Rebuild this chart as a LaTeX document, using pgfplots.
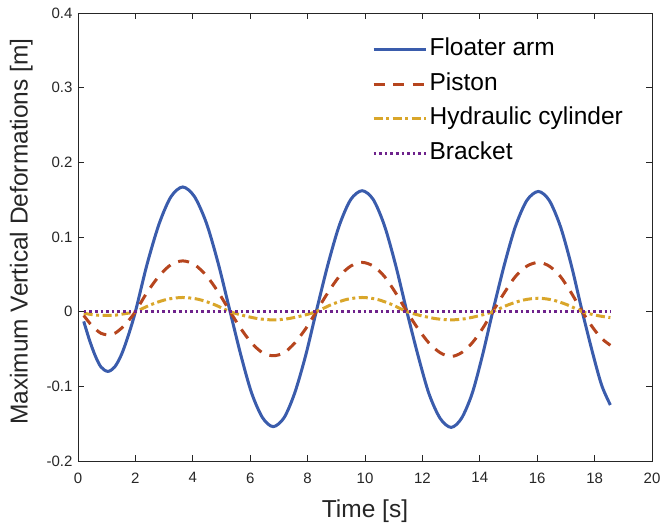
\documentclass[border=0pt]{standalone}
\usepackage{pgfplots}
\pgfplotsset{compat=1.18}
\usepackage{fontspec}
\setmainfont{Liberation Sans}
\definecolor{cblue}{RGB}{58,92,172}
\definecolor{cred}{RGB}{182,69,30}
\definecolor{cyel}{RGB}{217,166,42}
\definecolor{cpur}{RGB}{110,35,140}
\definecolor{axgray}{RGB}{38,38,38}
\begin{document}
\begin{tikzpicture}
\path[use as bounding box] (-78pt,-67pt) rectangle (583pt,461pt);
\begin{axis}[
  at={(0,0)}, anchor=south west,
  scale only axis, width=574pt, height=448pt,
  xmin=0, xmax=20, ymin=-0.2, ymax=0.4,
  xtick={0,2,4,6,8,10,12,14,16,18,20},
  ytick={-0.2,-0.1,0,0.1,0.2,0.3,0.4},
  yticklabels={-0.2,-0.1,0,0.1,0.2,0.3,0.4},
  /pgf/number format/assume math mode=true,
  tick align=inside, major tick length=6pt,
  axis line style={axgray, line width=0.8pt},
  every tick/.style={axgray, line width=0.8pt},
  tick label style={font=\fontsize{15}{18}\selectfont, text=axgray},
  xticklabel style={yshift=-8pt},
  yticklabel style={xshift=-2pt},
  xlabel={Time [s]}, ylabel={Maximum Vertical Deformations [m]},
  label style={font=\fontsize{24.5}{29}\selectfont, text=axgray},
  xlabel style={at={(axis description cs:0.5,-0.113)}, anchor=center},
  ylabel style={at={(axis description cs:-0.099,0.512)}, anchor=center},
  legend style={draw=none, fill=none, at={(rel axis cs:0.512,0.957)}, anchor=north west,
    font=\fontsize{24.5}{29}\selectfont, inner sep=0pt, row sep=0pt,
    nodes={text height=18pt, text depth=6pt, inner ysep=5.25pt, inner xsep=2.5pt}},
  legend cell align=left,
  legend image code/.code={\draw[#1] (0pt,0pt) -- (52pt,0pt);},
]
\addplot[cblue, line width=3pt, smooth] coordinates {
(0.2,-0.013)(0.4,-0.038)(0.6,-0.059)(0.8,-0.074)(1.04,-0.080)
(1.28,-0.074)(1.52,-0.057)(1.76,-0.031)(2.0,0)
(2.41,0.064)(2.83,0.118)(3.24,0.154)(3.65,0.167)(4.06,0.154)(4.48,0.118)(4.89,0.064)(5.3,0)
(5.68,-0.059)(6.05,-0.109)(6.43,-0.142)(6.8,-0.154)(7.18,-0.142)(7.55,-0.109)(7.93,-0.059)(8.3,0)
(8.7,0.062)(9.1,0.115)(9.5,0.150)(9.9,0.162)(10.29,0.150)(10.68,0.115)(11.07,0.062)(11.46,0)
(11.85,-0.059)(12.23,-0.110)(12.62,-0.143)(13.0,-0.155)(13.36,-0.143)(13.73,-0.110)(14.09,-0.059)(14.45,0)
(14.85,0.062)(15.24,0.114)(15.64,0.149)(16.04,0.161)(16.42,0.149)(16.81,0.114)(17.19,0.062)(17.57,0)
(17.95,-0.058)(18.25,-0.099)(18.55,-0.125)};
\addlegendentry{Floater arm}
\addplot[cred, line width=3pt, smooth, dash pattern=on 11pt off 8.5pt] coordinates {
(0.2,-0.005)(0.4,-0.015)(0.6,-0.023)(0.8,-0.029)(1.04,-0.031)
(1.28,-0.029)(1.52,-0.022)(1.76,-0.012)(2.0,0)
(2.41,0.026)(2.83,0.048)(3.24,0.063)(3.65,0.068)(4.06,0.063)(4.48,0.048)(4.89,0.026)(5.3,0)
(5.68,-0.023)(6.05,-0.042)(6.43,-0.055)(6.8,-0.059)(7.18,-0.055)(7.55,-0.042)(7.93,-0.023)(8.3,0)
(8.7,0.025)(9.1,0.047)(9.5,0.061)(9.9,0.066)(10.29,0.061)(10.68,0.047)(11.07,0.025)(11.46,0)
(11.85,-0.023)(12.23,-0.042)(12.62,-0.055)(13.0,-0.060)(13.36,-0.055)(13.73,-0.042)(14.09,-0.023)(14.45,0)
(14.85,0.025)(15.24,0.047)(15.64,0.061)(16.04,0.066)(16.42,0.061)(16.81,0.047)(17.19,0.025)(17.57,0)
(17.95,-0.022)(18.25,-0.036)(18.55,-0.045)};
\addlegendentry{Piston}
\addplot[cyel, line width=3pt, smooth, dash pattern=on 9pt off 3.5pt on 3pt off 3.5pt] coordinates {
(0.2,-0.002)(0.5,-0.004)(0.8,-0.005)(1.0,-0.005)(1.33,-0.0045)(1.66,-0.0025)(2.0,0)
(2.55,0.0095)(3.10,0.0165)(3.65,0.019)(4.20,0.0165)(4.75,0.0095)(5.3,0)
(5.8,-0.0055)(6.3,-0.0095)(6.8,-0.011)(7.3,-0.0095)(7.8,-0.0055)(8.3,0)
(8.83,0.0095)(9.37,0.0165)(9.9,0.019)(10.42,0.0165)(10.94,0.0095)(11.46,0)
(11.97,-0.0055)(12.49,-0.0095)(13.0,-0.011)(13.48,-0.0095)(13.97,-0.0055)(14.45,0)
(14.98,0.009)(15.51,0.0155)(16.04,0.018)(16.55,0.0155)(17.06,0.009)(17.57,0)
(18.07,-0.005)(18.55,-0.008)};
\addlegendentry{Hydraulic cylinder}
\addplot[cpur, line width=3pt, dash pattern=on 2.6pt off 3pt] coordinates {
(0.2,0)(2,0)(4,0)(6,0)(8,0)(10,0)(12,0)(14,0)(16,0)(18.55,0)};
\addlegendentry{Bracket}
\end{axis}
\end{tikzpicture}
\end{document}
